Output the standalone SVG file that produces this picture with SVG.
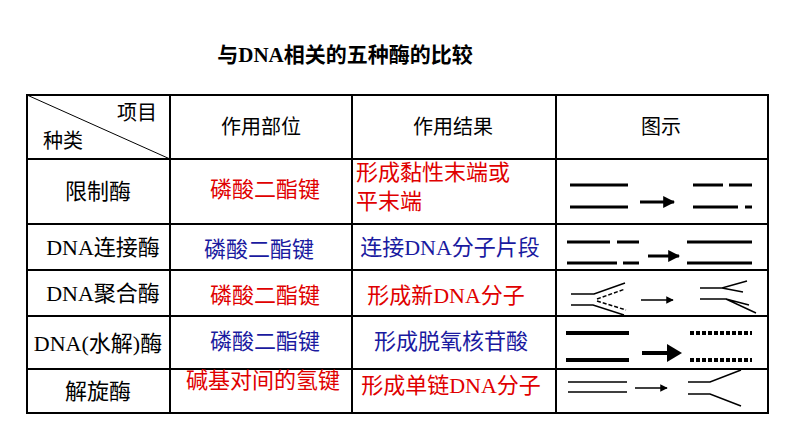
<svg xmlns="http://www.w3.org/2000/svg" width="794" height="447" viewBox="0 0 794 447">
<style>
text{font-family:"Liberation Serif","Noto Sans CJK SC",serif;font-size:22px;fill:#000}
.h{font-size:20px}
.c{text-anchor:middle}
.r{fill:#e00000}.b{fill:#1a1aa0}
.g{stroke:#000;stroke-width:2;fill:none}
.t{stroke:#000;stroke-width:3;fill:none}
.k{stroke:#000;stroke-width:4;fill:none}
.th{stroke:#000;stroke-width:1.5;fill:none}
</style>
<defs>
<marker id="a" viewBox="0 0 10 10" refX="9" refY="5" markerWidth="4" markerHeight="4" orient="auto"><path d="M0,0L10,5L0,10z"/></marker>
<marker id="a2" viewBox="0 0 10 10" refX="9" refY="5" markerWidth="5" markerHeight="5" orient="auto"><path d="M0,0L10,5L0,10z"/></marker>
</defs>
<rect width="794" height="447" fill="#fff"/>
<text x="345" y="62" class="c" style="font-weight:bold;font-size:21px">与DNA相关的五种酶的比较</text>
<g id="table" class="g">
<rect x="27" y="95" width="741" height="318"/>
<line x1="170" y1="95" x2="170" y2="413"/><line x1="352" y1="95" x2="352" y2="413"/><line x1="556" y1="95" x2="556" y2="413"/>
<line x1="27" y1="159" x2="768" y2="159"/><line x1="27" y1="224" x2="768" y2="224"/><line x1="27" y1="270" x2="768" y2="270"/><line x1="27" y1="316" x2="768" y2="316"/><line x1="27" y1="369" x2="768" y2="369"/>
<line x1="27" y1="95" x2="170" y2="159" stroke-width="1"/>
</g>
<g id="header">
<text x="137" y="120" class="c h">项目</text><text x="63" y="148" class="c h">种类</text>
<text x="261" y="134" class="c h">作用部位</text><text x="453" y="134" class="c h">作用结果</text><text x="661" y="134" class="c h">图示</text>
</g>
<g id="row1"><text x="98" y="199" class="c">限制酶</text><text x="265" y="197" class="c r">磷酸二酯键</text><text x="356" y="180" class="r">形成黏性末端或</text><text x="356" y="209" class="r">平末端</text>
<path class="t" d="M570,185H628M570,207H628M693,185H723M729,185H752M693,207H738M745,207H752"/><line class="t" x1="640" y1="202" x2="674" y2="202" marker-end="url(#a)"/></g>
<g id="row2"><text x="103" y="255" class="c">DNA连接酶</text><text x="259" y="257" class="c b">磷酸二酯键</text><text x="450" y="255" class="c b">连接DNA分子片段</text>
<path class="t" d="M567,242H610M617,242H639M567,263H617M623,263H639M687,242H752M687,263H752"/><line class="t" x1="648" y1="256" x2="679" y2="256" marker-end="url(#a)"/></g>
<g id="row3"><text x="103" y="301" class="c">DNA聚合酶</text><text x="265" y="303" class="c r">磷酸二酯键</text><text x="446" y="303" class="c r">形成新DNA分子</text>
<path class="th" d="M571,294H594L625,283M571,305H593L624,315"/><path class="th" stroke-dasharray="4,2" d="M597,299L625,289M597,301L626,310"/>
<path class="th" d="M700,288H722L747,281M722,288L743,292M700,299H726L756,313M726,299L749,305"/>
<line class="th" x1="641" y1="300" x2="673" y2="300" marker-end="url(#a2)"/></g>
<g id="row4"><text x="98" y="351" class="c">DNA(水解)酶</text><text x="265" y="349" class="c b">磷酸二酯键</text><text x="451" y="349" class="c b">形成脱氧核苷酸</text>
<path class="k" d="M566,333H629M566,360H629"/><path class="k" stroke-width="3" stroke-dasharray="4,2" d="M690,333H752M690,360H752"/><line class="k" x1="642" y1="353" x2="670" y2="353"/><path d="M667,344L682,353L667,362z"/></g>
<g id="row5"><text x="263" y="388" class="c r">碱基对间的氢键</text><text x="98" y="399" class="c">解旋酶</text><text x="451" y="393" class="c r">形成单链DNA分子</text>
<path class="th" d="M568,382H627M568,392H627M688,382H710L741,370M688,394H710L741,406"/><line class="th" x1="635" y1="388" x2="667" y2="388" marker-end="url(#a2)"/></g>
</svg>
